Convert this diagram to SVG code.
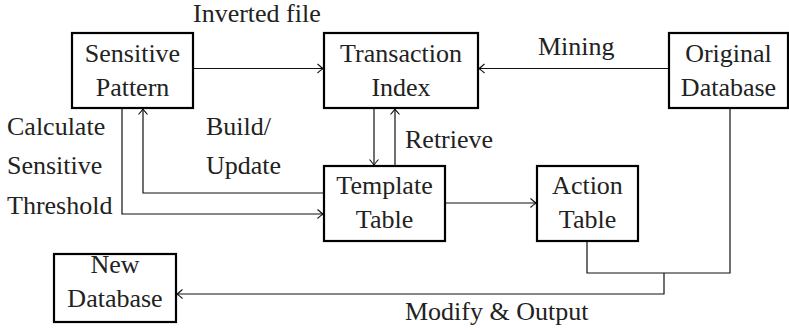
<svg xmlns="http://www.w3.org/2000/svg" width="789" height="330" viewBox="0 0 789 330">
<style>
text{font-family:'Liberation Serif','Times New Roman',Times,serif;font-size:26px;fill:#222}
.c{text-anchor:middle}
.box{fill:#fff;stroke:#000;stroke-width:2.2}
.ln{fill:none;stroke:#111;stroke-width:1.2}
</style>
<defs>
<marker id="ar" markerUnits="userSpaceOnUse" markerWidth="12" markerHeight="12" viewBox="-7 -6 8 12" refX="0" refY="0" orient="auto">
<path d="M-5.5,-4.5 Q-1.5,-1 0,0 Q-1.5,1 -5.5,4.5" fill="none" stroke="#111" stroke-width="1.1"/>
</marker>
</defs>
<rect width="789" height="330" fill="#fff"/>
<g id="connectors">
<path class="ln" d="M193,68.5 H323" marker-end="url(#ar)"/>
<path class="ln" d="M669,68.5 H479" marker-end="url(#ar)"/>
<path class="ln" d="M374,108 V165" marker-end="url(#ar)"/>
<path class="ln" d="M395,166 V109" marker-end="url(#ar)"/>
<path class="ln" d="M122,108 V214 H323" marker-end="url(#ar)"/>
<path class="ln" d="M324,193 H143 V109" marker-end="url(#ar)"/>
<path class="ln" d="M445,203 H536" marker-end="url(#ar)"/>
<path class="ln" d="M587,241 V273 H730 V108"/>
<path class="ln" d="M664,273 V294 H177" marker-end="url(#ar)"/>
</g>
<g id="sensitive-pattern">
<rect class="box" x="72" y="33" width="121" height="75"/>
<text class="c" x="132.5" y="62" style="font-family:'Liberation Serif',serif">Sensitive</text>
<text class="c" x="132.5" y="96">Pattern</text>
</g>
<g id="transaction-index">
<rect class="box" x="324" y="33" width="154" height="75"/>
<text class="c" x="401" y="62">Transaction</text>
<text class="c" x="401" y="96">Index</text>
</g>
<g id="original-database">
<rect class="box" x="669" y="33" width="119" height="75"/>
<text class="c" x="728.5" y="62">Original</text>
<text class="c" x="728.5" y="96">Database</text>
</g>
<g id="template-table">
<rect class="box" x="324" y="166" width="121" height="75"/>
<text class="c" x="384.5" y="194">Template</text>
<text class="c" x="384.5" y="228">Table</text>
</g>
<g id="action-table">
<rect class="box" x="537" y="166" width="101" height="75"/>
<text class="c" x="587.5" y="194">Action</text>
<text class="c" x="587.5" y="228">Table</text>
</g>
<g id="new-database">
<rect class="box" x="54" y="254" width="122" height="68"/>
<text class="c" x="115" y="273">New</text>
<text class="c" x="115" y="307">Database</text>
</g>
<g id="labels">
<text x="193" y="22">Inverted file</text>
<text x="538" y="55">Mining</text>
<text x="7" y="135">Calculate</text>
<text x="7" y="174">Sensitive</text>
<text x="7" y="214">Threshold</text>
<text x="206" y="135">Build/</text>
<text x="206" y="174">Update</text>
<text x="405" y="148">Retrieve</text>
<text x="405" y="320">Modify &amp; Output</text>
</g>
</svg>
